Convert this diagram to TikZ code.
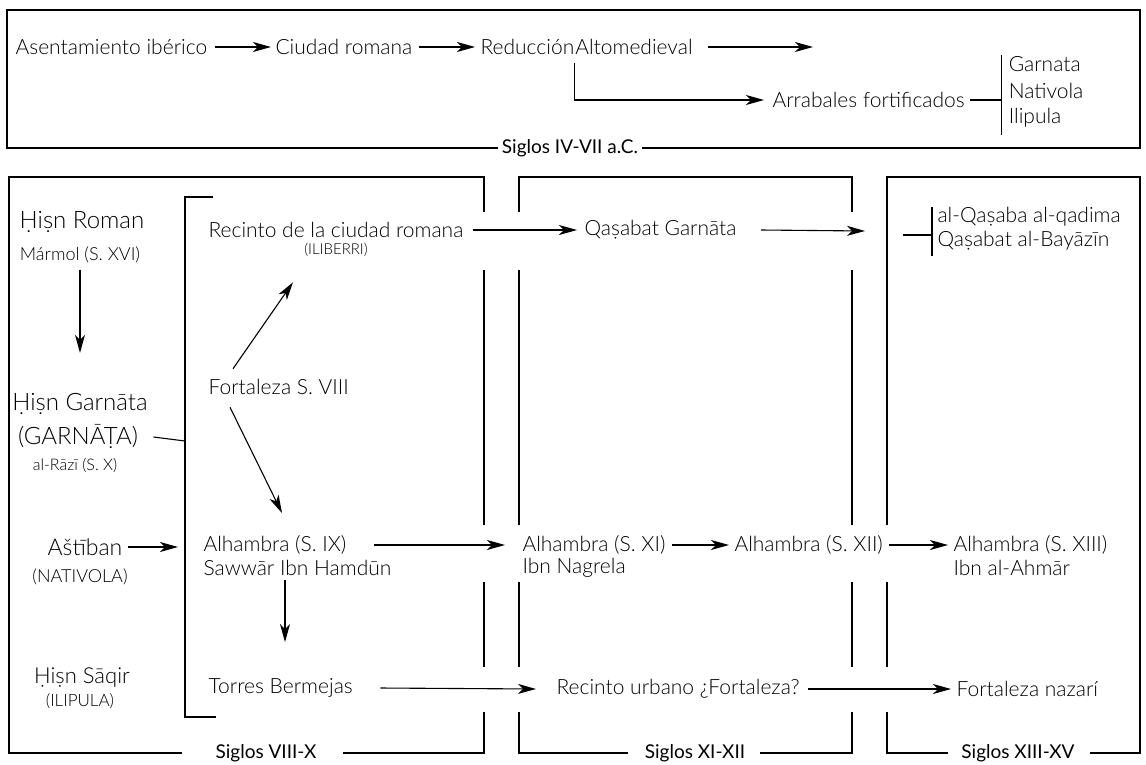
\documentclass[tikz,border=0pt]{standalone}
\usepackage{fontspec}
\IfFontExistsTF{Lato Light}{%
  \setmainfont{Lato Light}%
  \newfontfamily\labfont{Lato}%
}{%
  \setmainfont{Lato}%
  \newcommand\labfont{\bfseries}%
}
\usetikzlibrary{arrows.meta,positioning,calc}
\begin{document}
\begin{tikzpicture}[x=1pt,y=-1pt,line width=1.1pt,
  t/.style={anchor=west,inner sep=0pt,font=\fontsize{21}{23}\selectfont},
  tc/.style={inner sep=0pt,font=\fontsize{24}{26}\selectfont},
  ts/.style={inner sep=0pt,font=\fontsize{16}{18}\selectfont},
  lab/.style={inner sep=0pt,font=\labfont\fontsize{19}{21}\selectfont},
  arr/.style={-{Stealth[length=18pt,width=10pt,inset=5pt]}},
]
\useasboundingbox (0,0) rectangle (1146,764);

% ---------- top box ----------
\node[lab,inner xsep=3pt] (sg0) at (570,148) {Siglos IV-VII a.C.};
\draw (sg0.west) -- (7,148) -- (7,10) -- (1140,10) -- (1140,148) -- (sg0.east);

\node[t] (a1) at (15,47) {Asentamiento ibérico};
\node[t] (a2) at (275,47) {Ciudad romana};
\node[t] (a3) at (480,47) {Reducción};
\node[t,right=0pt of a3] (a3b) {Altomedieval};
\coordinate (e1) at (813,47);
\draw[arr] ([xshift=7pt]a1.east) -- ([xshift=-4pt]a2.west);
\draw[arr] ([xshift=6pt]a2.east) -- ([xshift=-5pt]a3.west);
\draw[arr] ([xshift=15pt]a3b.east) -- (e1);

\node[t] (ar) at (772,100) {Arrabales fortificados};
\draw[arr] ([yshift=-8pt]a3.south east) -- (a3.south east |- ar.west) -- ([xshift=-8pt]ar.west);
\coordinate (bm) at ($(ar.east)+(36,0)$);
\draw ([xshift=5pt]ar.east) -- (bm);
\draw ($(bm)+(0,-45)$) -- ($(bm)+(0,35)$);
\node[t] (g1) at ($(bm)+(7,-36)$) {Garnata};
\node[t] (g2) at ($(bm)+(7,-9)$) {Nativola};
\node[t] (g3) at ($(bm)+(7,18)$) {Ilipula};

% ---------- period boxes ----------
% box 1
\draw (182,753) -- (9,753) -- (9,177) -- (484,177) -- (484,212);
\draw (484,270) -- (484,525); \draw (484,582) -- (484,667);
\draw (484,712) -- (484,753) -- (343,753);
\node[lab] (sg1) at (266,753) {Siglos VIII-X};
% box 2
\draw (519,212) -- (519,177) -- (852,177) -- (852,212);
\draw (519,270) -- (519,525); \draw (519,582) -- (519,667);
\draw (852,270) -- (852,525); \draw (852,582) -- (852,667);
\draw (628,753) -- (519,753) -- (519,712);
\draw (760,753) -- (852,753) -- (852,712);
\node[lab] (sg2) at (695,753) {Siglos XI-XII};
% box 3
\draw (887,525) -- (887,177) -- (1140,177) -- (1140,753) -- (1090,753);
\draw (887,582) -- (887,667);
\draw (948,753) -- (887,753) -- (887,712);
\node[lab] (sg3) at (1018,753) {Siglos XIII-XV};

% bracket
\coordinate (bk) at (185,441);
\draw (213,197) -- (185,197) -- (185,717) -- (216,717);

% ---------- left column ----------
\node[tc] (hr1) at (82,222) {Ḥiṣn Roman};
\node[ts,font=\fontsize{18}{20}\selectfont] (hr2) at (80,255) {Mármol (S. XVI)};
\node[tc] (hg1) at (80,404) {Ḥiṣn Garnāta};
\node[tc] (hg2) at (78,437) {(GARNĀṬA)};
\node[ts] (hg3) at (75,465) {al-Rāzī (S. X)};
\node[tc,font=\fontsize{23}{25}\selectfont] (as1) at (85,547) {Aštīban};
\node[ts,font=\fontsize{18}{20}\selectfont] (as2) at (80,577) {(NATIVOLA)};
\node[tc,font=\fontsize{22}{24}\selectfont] (hs1) at (82,678) {Ḥiṣn Sāqir};
\node[ts,font=\fontsize{17}{19}\selectfont] (hs2) at (80,701) {(ILIPULA)};

\draw[arr] ([yshift=-6pt]hr2.south) -- ([yshift=40pt]hg1.north);
\draw ([xshift=15pt]hg2.east) -- (bk);
\draw[arr] ([xshift=5pt]as1.east) -- ([xshift=-7pt]as1.east -| bk);

% ---------- middle ----------
\node[t] (rc) at (208,230) {Recinto de la ciudad romana};
\node[ts,font=\fontsize{15}{17}\selectfont] (il) at (336,250) {(ILIBERRI)};
\node[t] (qg) at (584,230) {Qaṣabat Garnāta};
\coordinate (e2) at (865,231);
\draw[arr] ([xshift=9pt]rc.east) -- ([xshift=-7pt]qg.west);
\draw[arr] ([xshift=24pt]qg.east) -- (e2);

\coordinate (qb) at (932,235);
\draw (903,235) -- (qb);
\draw ($(qb)+(0,-28)$) -- ($(qb)+(0,21)$);
\node[t] (qa1) at (937,217) {al-Qaṣaba al-qadima};
\node[t] (qa2) at (937,241) {Qaṣabat al-Bayāzīn};

\node[t] (fo) at (208,387) {Fortaleza S. VIII};
\draw[arr] ($(fo.north west)+(25,-10)$) -- ($(il.south)+(-43,25)$);

\node[t] (ah1) at (203,545) {Alhambra (S. IX)};
\node[t] (ah2) at (203,568) {Sawwār Ibn Hamdūn};
\draw[arr] ($(fo.south west)+(22,12)$) -- ($(ah1.north west)+(79,-22)$);

\node[t] (tb) at (208,688) {Torres Bermejas};
\draw[arr] ($(ah2.south west)+(82,4)$) -- ($(tb.north west)+(77,-36)$);

\node[t] (ax1) at (522,545) {Alhambra (S. XI)};
\node[t] (ax1b) at (522,568) {Ibn Nagrela};
\node[t] (ax2) at (734,545) {Alhambra (S. XII)};
\node[t] (ax3) at (953,545) {Alhambra (S. XIII)};
\node[t] (ax3b) at (953,568) {Ibn al-Ahmār};
\draw[arr] ([xshift=27pt]ah1.east) -- ([xshift=-17pt]ax1.west);
\draw[arr] ([xshift=6pt]ax1.east) -- ([xshift=-5pt]ax2.west);
\draw[arr] ([xshift=6pt]ax2.east) -- ([xshift=-5pt]ax3.west);

\node[t] (ru) at (556,689) {Recinto urbano ¿Fortaleza?};
\node[t] (fn) at (956,689) {Fortaleza nazarí};
\draw[arr] ([xshift=27pt]tb.east) -- ([xshift=-20pt]ru.west);
\draw[arr] ([xshift=8pt]ru.east) -- ([xshift=-5pt]fn.west);
\end{tikzpicture}
\end{document}
